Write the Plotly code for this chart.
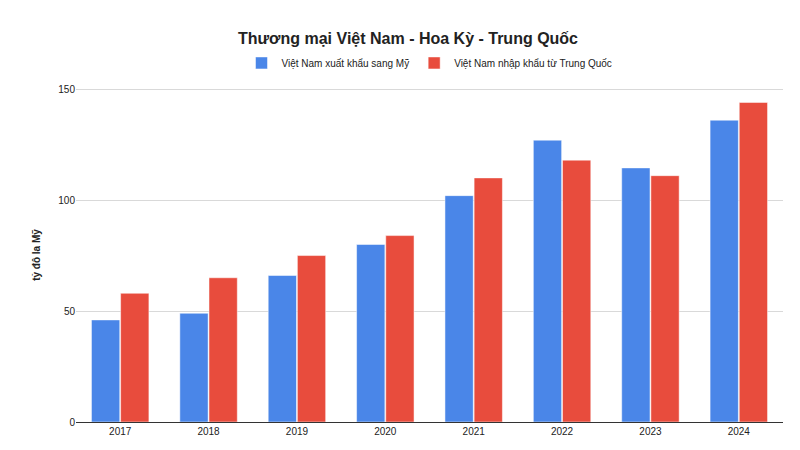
import plotly.graph_objects as go

# data
years = ["2017", "2018", "2019", "2020", "2021", "2022", "2023", "2024"]
export_us = [46, 49, 66, 80, 102, 127, 114.5, 136]
import_cn = [58, 65, 75, 84, 110, 118, 111, 144]

fig = go.Figure()
fig.add_trace(go.Bar(x=years, y=export_us, name="Việt Nam xuất khẩu sang Mỹ",
                     marker_color="#4a86e8"))
fig.add_trace(go.Bar(x=years, y=import_cn, name="Việt Nam nhập khẩu từ Trung Quốc",
                     marker_color="#e84c3d"))

fig.update_layout(
    width=800, height=450,
    template="plotly_white",
    font=dict(family="Arial", size=10, color="#222"),
    title=dict(text="<b>Thương mại Việt Nam - Hoa Kỳ - Trung Quốc</b>",
               x=0.5, xanchor="center", y=0.933, yanchor="middle",
               font=dict(size=16, color="#222")),
    legend=dict(orientation="h", x=0.5, xanchor="center", y=1.075, yanchor="middle",
                font=dict(size=10)),
    bargap=0.34, bargroupgap=0.03,
    margin=dict(l=68, r=25, t=80, b=36),
    plot_bgcolor="white",
)
fig.update_yaxes(title=dict(text="<b>tỷ đô la Mỹ</b>", font=dict(size=10)),
                 range=[0, 150.5], tickvals=[0, 50, 100, 150],
                 gridcolor="#d9d9d9", zeroline=False)
fig.update_xaxes(showline=True, linecolor="#333", ticks="")

fig.write_html("out.html")
